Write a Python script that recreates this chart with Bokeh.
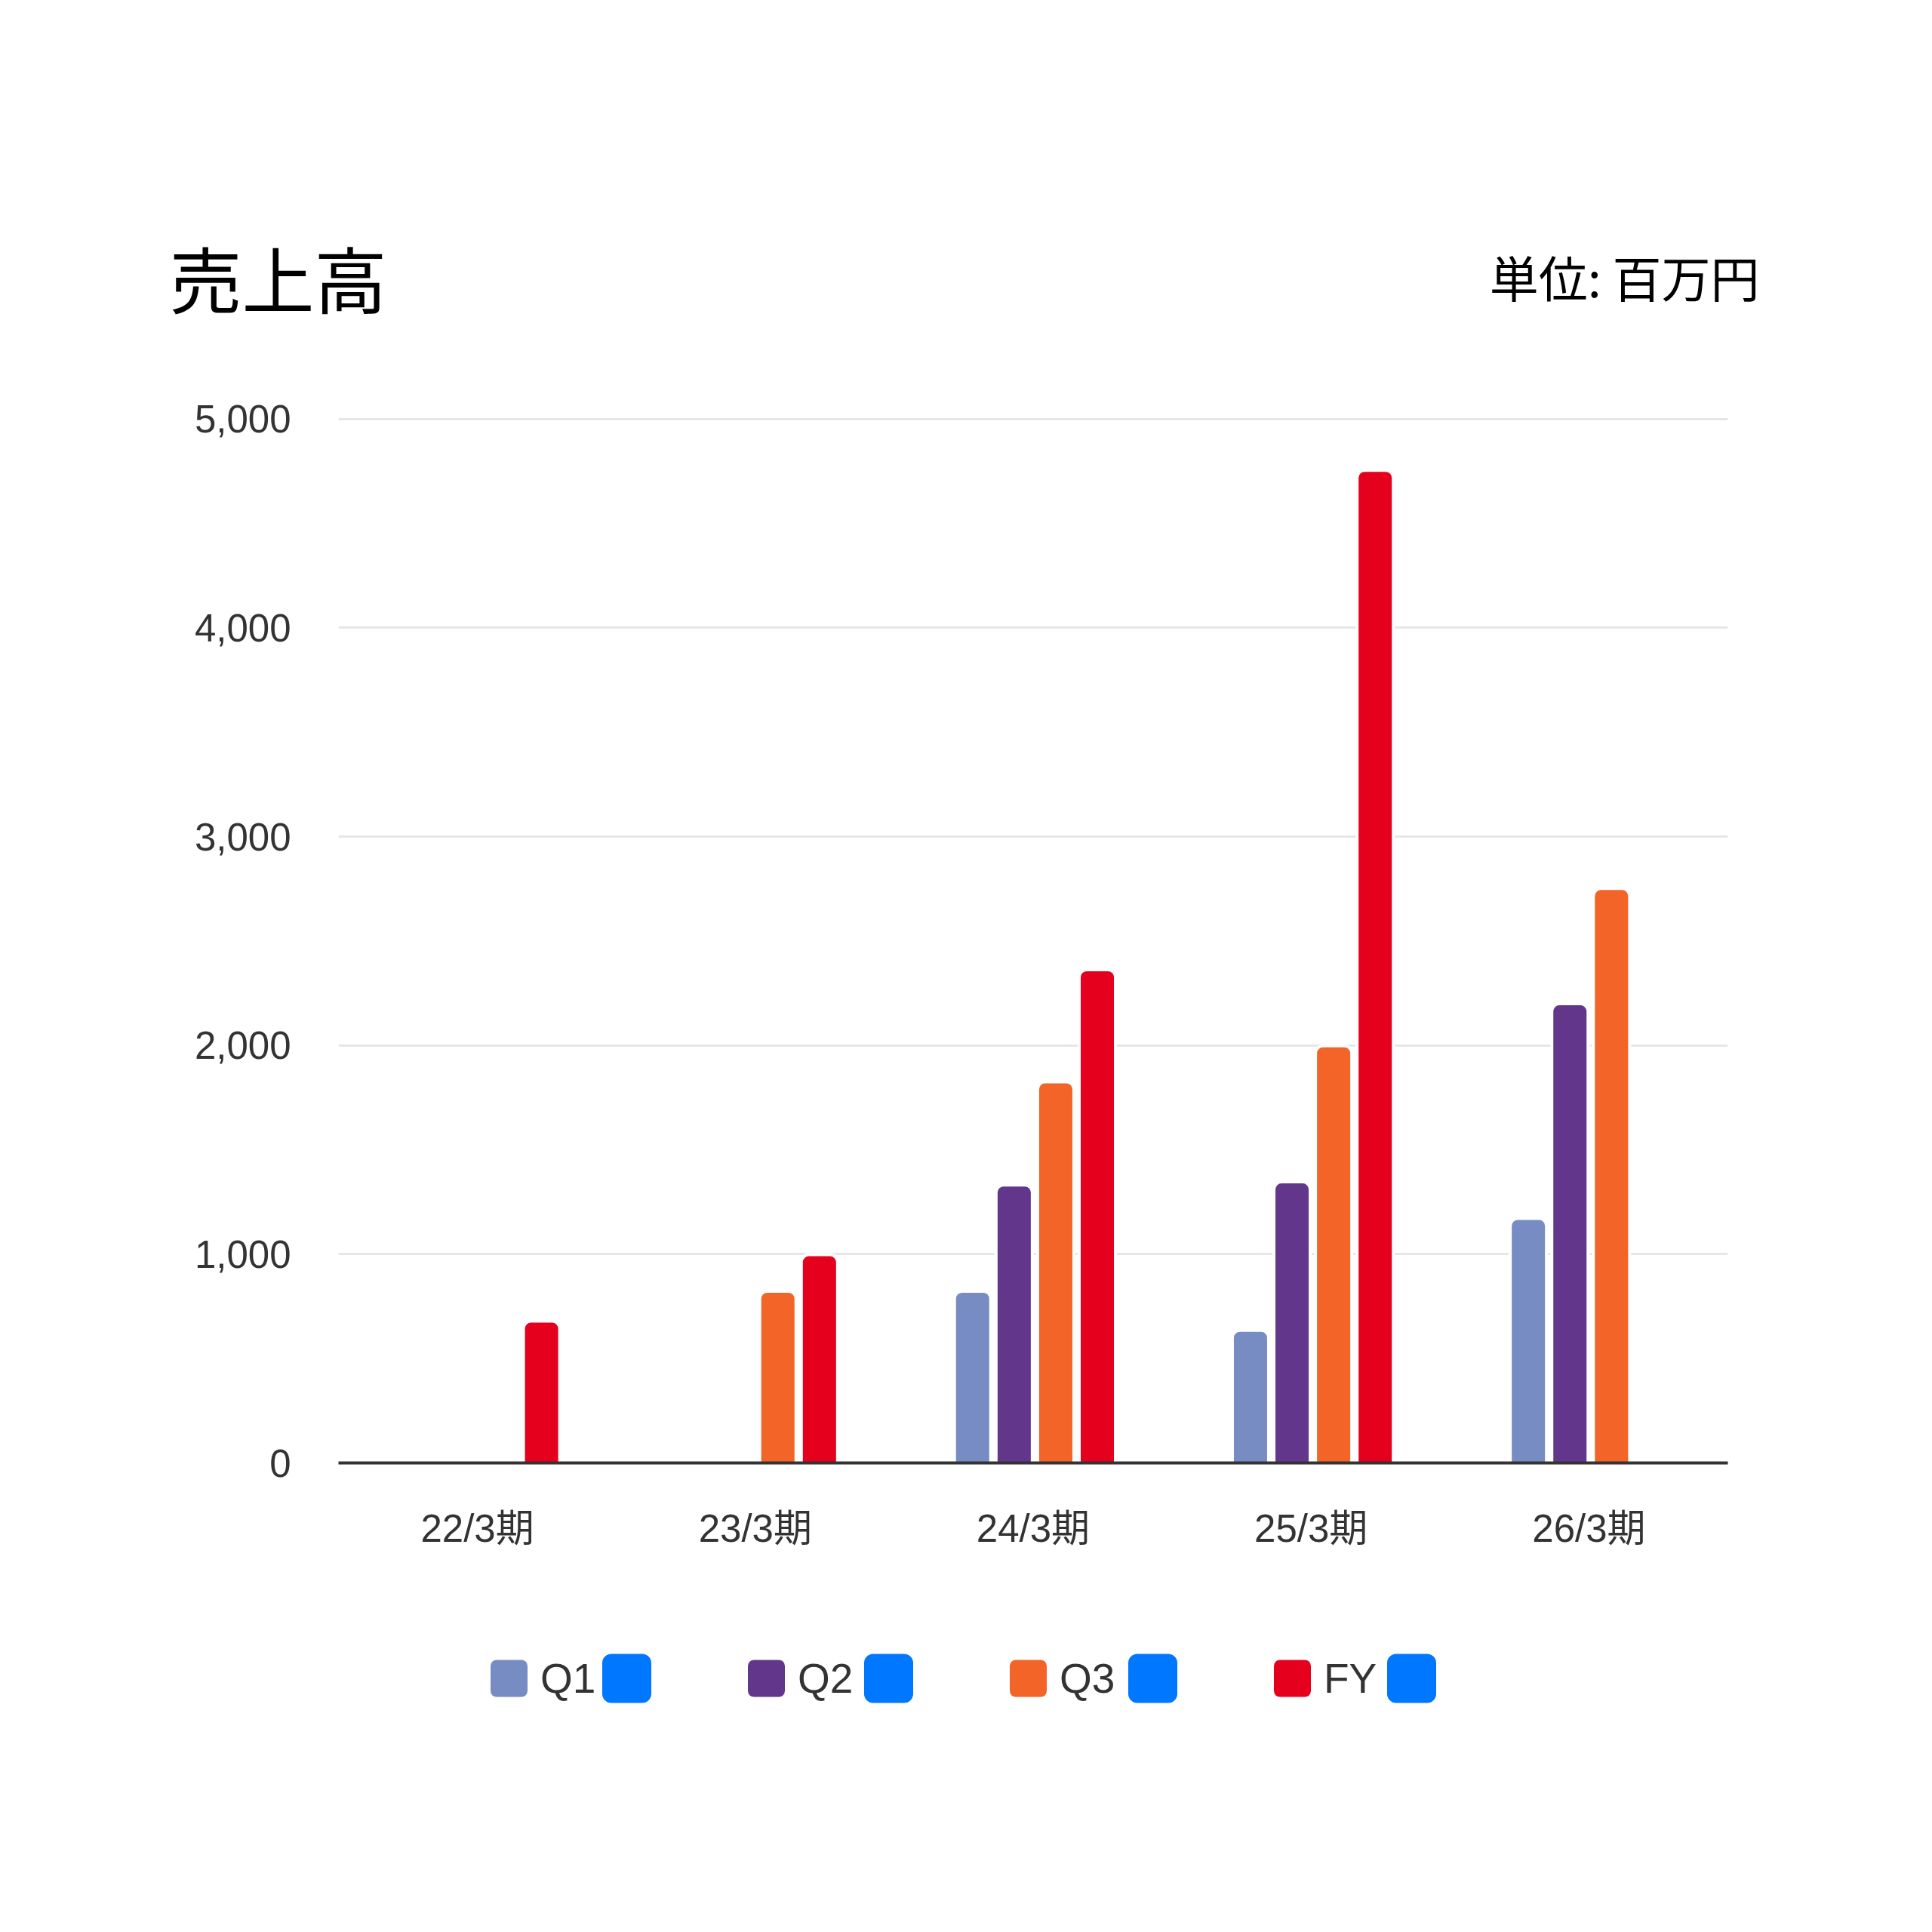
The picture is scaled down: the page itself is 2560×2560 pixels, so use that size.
from bokeh.plotting import figure
from bokeh.models import ColumnDataSource, FactorRange, Range1d, FixedTicker, NumeralTickFormatter
from bokeh.transform import dodge
from bokeh.layouts import column, row
from bokeh.embed import file_html
from bokeh.resources import INLINE
from bokeh.core.properties import value

# ---------------- data ----------------
TITLE = "売上高"
UNIT = "単位: 百万円"
PERIODS = ["22/3期", "23/3期", "24/3期", "25/3期", "26/3期"]
SERIES = ["Q1", "Q2", "Q3", "FY"]
Q1 = [None, None, 815, 628, 1164]
Q2 = [None, None, 1324, 1339, 2192]
Q3 = [None, 815, 1818, 1991, 2744]
FY = [672, 990, 2355, 4747, None]
Y_TICKS = [0, 1000, 2000, 3000, 4000, 5000]

# ---------------- style / layout ----------------
COLORS = ["#788cc4", "#62368a", "#f26427", "#e5001e"]
MARKER_BLUE = "#0077ff"
TEXT_DARK = "#333333"
GRID = "#e6e6e6"
LATIN = "'Liberation Sans', 'Noto Sans CJK JP'"
CJK = "Noto Sans CJK JP"

W = 2560
FRAME_L = 448
FRAME_R = 2289
HEADER_H = 448
MAIN_H = 1652
LEGEND_H = 460
BORDER_R = W - FRAME_R

BAR_W = 0.1195
BAR_STEP = 0.1496
BAR_SHIFT = 0.0065


def blank(width, height, x0, x1, y0, y1, **kw):
    f = figure(width=width, height=height, x_range=Range1d(x0, x1), y_range=Range1d(y1, y0),
               x_axis_type=None, y_axis_type=None, title=None,
               output_backend="svg", toolbar_location=None, **kw)
    f.outline_line_color = None
    return f


# ---------------- header (two halves side by side) ----------------
half = W // 2
HEAD_MID = 365.5
h1 = blank(half, HEADER_H, 0, half, 0, HEADER_H, min_border=0)
h1.text(x=[224], y=[HEAD_MID], text=[TITLE], text_font=value(CJK), text_font_size=value("96px"),
        text_color="#000000", text_align="left", text_baseline="middle")
h2 = blank(W - half, HEADER_H, half, W, 0, HEADER_H, min_border=0)
h2.text(x=[2331], y=[HEAD_MID], text=[UNIT], text_font=value(CJK), text_font_size=value("65px"),
        text_color="#000000", text_align="right", text_baseline="middle")
header = row(h1, h2, spacing=0)

# ---------------- main chart ----------------
p = figure(x_range=FactorRange(factors=PERIODS), y_range=Range1d(0, 5100),
           width=W, height=MAIN_H, min_border_left=FRAME_L, min_border_right=BORDER_R,
           min_border_top=79, min_border_bottom=162, title=None,
           output_backend="svg", toolbar_location=None)
p.outline_line_color = None
p.background_fill_color = "white"
p.border_fill_color = "white"

sources = []
for vals in [Q1, Q2, Q3, FY]:
    cats = [c for c, v in zip(PERIODS, vals) if v is not None]
    tops = [v for v in vals if v is not None]
    sources.append(ColumnDataSource(dict(period=cats, value=tops)))

# white halo behind bars (cuts the gridlines around each bar)
for i, src in enumerate(sources):
    off = BAR_SHIFT + (i - 1.5) * BAR_STEP
    p.vbar(x=dodge("period", off, range=p.x_range), top="value", bottom=0, width=BAR_W,
           source=src, fill_color="white", line_color="white", line_width=8,
           border_radius=(8, 8, 0, 0))
for i, src in enumerate(sources):
    off = BAR_SHIFT + (i - 1.5) * BAR_STEP
    p.vbar(x=dodge("period", off, range=p.x_range), top="value", bottom=0, width=BAR_W,
           source=src, fill_color=COLORS[i], line_color=None,
           border_radius=(8, 8, 0, 0))

p.xgrid.visible = False
p.ygrid.ticker = FixedTicker(ticks=Y_TICKS)
p.ygrid.grid_line_color = GRID
p.ygrid.grid_line_width = 3

p.yaxis.ticker = FixedTicker(ticks=Y_TICKS)
p.yaxis.formatter = NumeralTickFormatter(format="0,0")
p.yaxis.axis_line_color = None
p.yaxis.major_tick_line_color = None
p.yaxis.minor_tick_line_color = None
p.yaxis.major_tick_out = 0
p.yaxis.major_label_standoff = 63
p.yaxis.major_label_text_font = LATIN
p.yaxis.major_label_text_font_size = "51px"
p.yaxis.major_label_text_color = TEXT_DARK

p.xaxis.axis_line_color = TEXT_DARK
p.xaxis.axis_line_width = 4
p.xaxis.major_tick_line_color = None
p.xaxis.minor_tick_line_color = None
p.xaxis.major_tick_out = 0
p.xaxis.major_label_standoff = 58
p.xaxis.major_label_text_font = LATIN
p.xaxis.major_label_text_font_size = "51px"
p.xaxis.major_label_text_color = TEXT_DARK

# ---------------- legend ----------------
top_y = HEADER_H + MAIN_H
lg = blank(W, LEGEND_H, FRAME_L, FRAME_R, top_y, top_y + LEGEND_H,
           min_border_left=FRAME_L, min_border_right=BORDER_R, min_border_top=0, min_border_bottom=0)

SW = 49          # coloured swatch size
BOX = 65         # blue box size
GAP_SW_TEXT = 17
TEXT_SPAN = {"Q1": 82, "Q2": 88, "Q3": 91, "FY": 84}  # text start -> blue box start
GAP_ITEM = 128
MID_Y = 2223.5

total = sum(SW + GAP_SW_TEXT + TEXT_SPAN[s] + BOX for s in SERIES) + GAP_ITEM * (len(SERIES) - 1)
x = W / 2 - 4 - total / 2
sw_l, sw_r, tx, bx_l, bx_r = [], [], [], [], []
for s in SERIES:
    sw_l.append(x); sw_r.append(x + SW)
    t = x + SW + GAP_SW_TEXT
    tx.append(t)
    b = t + TEXT_SPAN[s]
    bx_l.append(b); bx_r.append(b + BOX)
    x = b + BOX + GAP_ITEM

n = len(SERIES)
lg.quad(left=sw_l, right=sw_r, top=[MID_Y - SW / 2] * n, bottom=[MID_Y + SW / 2] * n,
        fill_color=COLORS, line_color=None, border_radius=8)
lg.text(x=tx, y=[MID_Y] * n, text=SERIES, text_font=value("Liberation Sans"),
        text_font_size=value("55px"), text_color=TEXT_DARK,
        text_align="left", text_baseline="middle")
lg.quad(left=bx_l, right=bx_r, top=[MID_Y - BOX / 2] * n, bottom=[MID_Y + BOX / 2] * n,
        fill_color=MARKER_BLUE, line_color=None, border_radius=12)

layout = column(header, p, lg, spacing=0)
open("out.html", "w").write(file_html(layout, INLINE))
